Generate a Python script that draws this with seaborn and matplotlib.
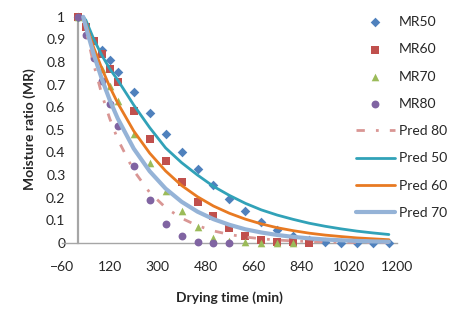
import matplotlib
matplotlib.use("Agg")
import matplotlib.pyplot as plt
import pandas as pd
import seaborn as sns

# measured points (drying time in min, moisture ratio)
t_mr50 = [0, 90, 120, 150, 210, 270, 330, 390, 450, 510, 570, 630, 690, 750, 810,
          870, 930, 990, 1050, 1110, 1170]
mr50 = [1.0, 0.852, 0.808, 0.758, 0.666, 0.575, 0.482, 0.40, 0.325, 0.258, 0.195,
        0.139, 0.094, 0.055, 0.031, 0.012, 0.003, 0.0, 0.0, 0.0, 0.0]

t_mr60 = [0, 30, 60, 90, 120, 150, 210, 270, 330, 390, 450, 510, 570, 630, 690,
          750, 810, 870]
mr60 = [1.0, 0.955, 0.895, 0.837, 0.77, 0.71, 0.582, 0.461, 0.362, 0.27, 0.18,
        0.118, 0.068, 0.032, 0.014, 0.006, 0.002, 0.0]

t_mr70 = [0, 30, 60, 90, 120, 150, 210, 270, 330, 390, 450, 510, 570, 630, 690,
          750, 810]
mr70 = [1.0, 0.93, 0.85, 0.771, 0.694, 0.626, 0.483, 0.355, 0.231, 0.142, 0.072,
        0.023, 0.008, 0.002, 0.0, 0.0, 0.0]

t_mr80 = [0, 30, 60, 90, 120, 150, 210, 270, 330, 390, 450, 510, 570]
mr80 = [1.0, 0.918, 0.818, 0.715, 0.616, 0.517, 0.34, 0.19, 0.085, 0.031, 0.002,
        0.0, 0.0]

# predicted curves
t_pred = [20, 30, 60, 90, 120, 150, 210, 270, 330, 390, 450, 510, 570, 630, 690,
          750, 810, 870, 930, 990, 1050, 1110, 1170]
pred80 = [1.0, 0.94, 0.787, 0.657, 0.549, 0.458, 0.32, 0.223, 0.156, 0.109, 0.076,
          0.053, 0.037, 0.026, 0.018, 0.0125, 0.0087, 0.006, 0.0043, 0.003, 0.002,
          0.0014, 0.001]
pred50 = [1.0, 0.985, 0.90, 0.83, 0.77, 0.72, 0.61, 0.51, 0.42, 0.355, 0.30, 0.25,
          0.21, 0.175, 0.146, 0.123, 0.104, 0.087, 0.0735, 0.062, 0.052, 0.044, 0.037]
pred60 = [1.0, 0.97, 0.862, 0.772, 0.69, 0.618, 0.495, 0.397, 0.318, 0.254, 0.204,
          0.163, 0.131, 0.105, 0.084, 0.067, 0.054, 0.043, 0.0345, 0.028, 0.022,
          0.018, 0.014]
pred70 = [1.0, 0.955, 0.832, 0.725, 0.631, 0.55, 0.417, 0.317, 0.24, 0.182, 0.138,
          0.105, 0.08, 0.06, 0.046, 0.035, 0.0265, 0.02, 0.015, 0.0115, 0.0087,
          0.0066, 0.005]

x_ticks = [-60, 120, 300, 480, 660, 840, 1020, 1200]
y_ticks = [0, 0.1, 0.2, 0.3, 0.4, 0.5, 0.6, 0.7, 0.8, 0.9, 1]

sns.set_style("white")
plt.rcParams['font.family'] = ['Lato', 'DejaVu Sans']

fig = plt.figure(figsize=(4.73, 3.30), dpi=100)
ax = fig.add_axes([0.131, 0.264, 0.708, 0.685])

# scatter series
scatter_specs = [
    ("MR50", t_mr50, mr50, "D", "#4F81BD", 24),
    ("MR60", t_mr60, mr60, "s", "#C0504D", 30),
    ("MR70", t_mr70, mr70, "^", "#9BBB59", 30),
    ("MR80", t_mr80, mr80, "o", "#8064A2", 32),
]
for name, t, v, mk, col, size in scatter_specs:
    df = pd.DataFrame({"t": t, "mr": v})
    sns.scatterplot(data=df, x="t", y="mr", marker=mk, color=col, s=size,
                    linewidth=0, label=name, ax=ax, clip_on=False, zorder=3)

# predicted lines
line_specs = [
    ("Pred 80", pred80, "#D99694", (0, (3, 4, 1, 4)), 2.0),
    ("Pred 50", pred50, "#31A2B8", "-", 2.0),
    ("Pred 60", pred60, "#E87A22", "-", 2.0),
    ("Pred 70", pred70, "#95B3D7", "-", 3.0),
]
for name, v, col, ls, lw in line_specs:
    df = pd.DataFrame({"t": t_pred, "mr": v})
    sns.lineplot(data=df, x="t", y="mr", color=col, linestyle=ls, linewidth=lw,
                 label=name, ax=ax, sort=False, estimator=None, clip_on=False,
                 zorder=4)

ax.set_xlim(-60, 1200)
ax.set_ylim(0, 1)
ax.set_xticks(x_ticks)
ax.set_xticks(range(-60, 1201, 60), minor=True)
ax.set_yticks(y_ticks)
ax.set_yticklabels([f"{v:g}" for v in y_ticks])

axis_col = "#A6A6A6"
for s in ["top", "right"]:
    ax.spines[s].set_visible(False)
ax.spines["left"].set_position(("data", 0))
ax.spines["left"].set_color(axis_col)
ax.spines["left"].set_linewidth(1.6)
ax.spines["bottom"].set_color(axis_col)
ax.spines["bottom"].set_linewidth(1.0)

ax.tick_params(axis="x", which="both", direction="out", length=3, width=0.8,
               color=axis_col, labelsize=10, pad=10)
ax.tick_params(axis="y", length=0, labelsize=10, pad=9)

ax.set_xlabel("")
ax.set_ylabel("")
fig.text(30 / 473, 0.609, "Moisture ratio (MR)", rotation=90, ha="center",
         va="center", fontsize=10, fontweight="bold")
fig.text(0.486, 0.097, "Drying time (min)", ha="center", va="center",
         fontsize=10, fontweight="bold")

handles, labels = ax.get_legend_handles_labels()
ax.legend(handles, labels, loc="upper left", bbox_to_anchor=(356 / 473, 1 - 16 / 330),
          bbox_transform=fig.transFigure, frameon=False, fontsize=10,
          handlelength=2.8, handletextpad=0.3, labelspacing=1.1,
          borderaxespad=0, borderpad=0, scatterpoints=1)

fig.savefig("out.png", dpi=100)
